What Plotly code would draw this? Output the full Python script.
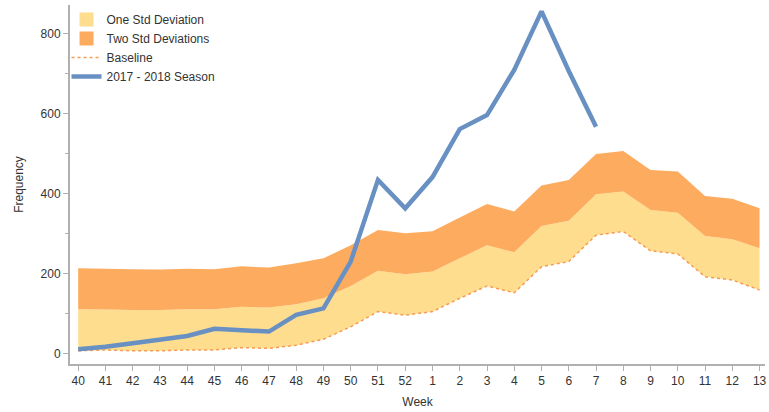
import plotly.graph_objects as go

weeks = ["40","41","42","43","44","45","46","47","48","49","50","51","52",
         "1","2","3","4","5","6","7","8","9","10","11","12","13"]
baseline = [8,10,8,8,10,10,16,14,22,37,68,106,97,106,139,170,153,218,231,297,306,258,250,193,185,160]
one_std = [112,111,110,110,112,112,118,116,124,139,170,208,199,206,239,272,254,320,333,399,406,360,353,295,287,264]
two_std = [214,213,212,211,213,212,219,216,227,239,272,310,302,307,341,375,356,421,435,500,507,460,456,395,388,364]
season_weeks = weeks[:20]
season = [12,18,27,37,45,63,60,56,98,114,231,435,364,442,562,597,710,856,707,568]

YELLOW = "#fedd8e"
ORANGE = "#fdac5f"

fig = go.Figure()
fig.add_trace(go.Scatter(x=weeks, y=baseline, mode="lines", line=dict(width=0),
                         showlegend=False, hoverinfo="skip"))
fig.add_trace(go.Scatter(x=weeks, y=one_std, mode="none", fill="tonexty",
                         fillcolor=YELLOW, name="One Std Deviation", showlegend=False))
fig.add_trace(go.Scatter(x=weeks, y=two_std, mode="none", fill="tonexty",
                         fillcolor=ORANGE, name="Two Std Deviations", showlegend=False))
# legend swatches (square markers)
fig.add_trace(go.Scatter(x=[None], y=[None], mode="markers",
                         marker=dict(symbol="square", size=14, color=YELLOW),
                         name="One Std Deviation"))
fig.add_trace(go.Scatter(x=[None], y=[None], mode="markers",
                         marker=dict(symbol="square", size=14, color=ORANGE),
                         name="Two Std Deviations"))
fig.add_trace(go.Scatter(x=weeks, y=baseline, mode="lines",
                         line=dict(color="#f79a52", width=1.5, dash="dot"),
                         name="Baseline"))
fig.add_trace(go.Scatter(x=season_weeks, y=season, mode="lines",
                         line=dict(color="#6890c2", width=4.5),
                         name="2017 - 2018 Season"))

fig.update_layout(
    width=769, height=412,
    margin=dict(l=70, r=4, t=5, b=48),
    paper_bgcolor="white", plot_bgcolor="white",
    font=dict(family="Arial, Liberation Sans, sans-serif", size=12, color="#333"),
    legend=dict(x=-0.005, y=1.0, xanchor="left", yanchor="top", traceorder="normal",
                bgcolor="rgba(0,0,0,0)", font=dict(size=12, color="#333"),
                tracegroupgap=0, itemwidth=30),
    xaxis=dict(type="category", range=[-0.3, 25.2], showline=True, linecolor="#b0b0b0",
               linewidth=2, ticks="outside", ticklen=5, tickcolor="#b0b0b0",
               showgrid=False, zeroline=False, automargin=False,
               title=dict(text="Week", font=dict(size=12), standoff=10)),
    yaxis=dict(range=[-25, 872], showline=True, linecolor="#b0b0b0", linewidth=2,
               ticks="outside", ticklen=5, tickcolor="#b0b0b0", dtick=200,
               showgrid=False, zeroline=False, automargin=False,
               minor=dict(ticks="outside", dtick=100, ticklen=3, tickcolor="#b0b0b0"),
               title=dict(text="Frequency", font=dict(size=12), standoff=14)),
)

fig.write_html("out.html", config={"displayModeBar": False},
               post_script="document.body.style.margin='0';")
